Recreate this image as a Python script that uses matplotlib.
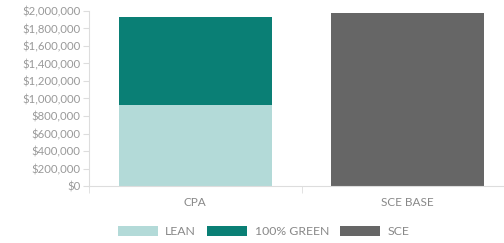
import matplotlib.pyplot as plt
from matplotlib.ticker import FuncFormatter

plt.rcParams['font.family'] = ['Lato', 'DejaVu Sans']

categories = ['CPA', 'SCE BASE']
lean = [925000, 0]
green = [1005000, 0]
sce = [0, 1975000]
yticks = list(range(0, 2000001, 200000))

c_lean = '#b3dad8'
c_green = '#0a7f75'
c_sce = '#666666'
grey = '#999999'

fig = plt.figure(figsize=(5.04, 2.43), dpi=100)
ax = fig.add_axes([89 / 504, 57 / 243, 415 / 504, 175 / 243])

x = range(len(categories))
w = 0.72
ax.bar(x, lean, width=w, color=c_lean, label='LEAN')
ax.bar(x, green, width=w, bottom=lean, color=c_green, label='100% GREEN')
ax.bar(x, sce, width=w, color=c_sce, label='SCE')

ax.set_xlim(-0.5, -0.5 + 415 / 212.5)
ax.set_ylim(0, 2000000)
ax.set_yticks(yticks)
ax.yaxis.set_major_formatter(FuncFormatter(lambda v, p: '${:,.0f}'.format(v)))
ax.set_xticks(list(x))
ax.set_xticklabels(categories)
ax.set_xticks([-0.5, 0.5], minor=True)

for s in ['top', 'right']:
    ax.spines[s].set_visible(False)
ax.spines['left'].set_color('#dddddd')
ax.spines['bottom'].set_color('#dddddd')
ax.tick_params(axis='y', colors='#dddddd', labelcolor=grey, labelsize=8.2, length=4, pad=2)
ax.tick_params(axis='x', which='major', length=0, labelcolor='#888888', labelsize=8.5, pad=8)
ax.tick_params(axis='x', which='minor', colors='#dddddd', length=5)

fig.legend(loc='lower center', bbox_to_anchor=(0.523, -0.02), ncol=3, frameon=False,
           handlelength=3.3, handleheight=0.9, columnspacing=0.9, handletextpad=0.6,
           fontsize=8.8, labelcolor='#888888')

fig.savefig('out.png', dpi=100)
